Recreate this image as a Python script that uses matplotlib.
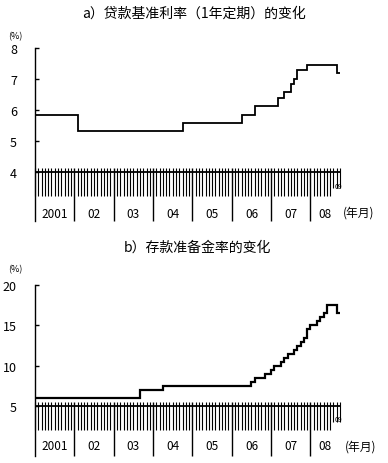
import matplotlib
matplotlib.use("Agg")
import matplotlib.pyplot as plt
from matplotlib import transforms

plt.rcParams['font.family'] = ['Noto Sans CJK SC', 'DejaVu Sans']

# ---- data ----
title_a = "a）贷款基准利率（1年定期）的变化"
title_b = "b）存款准备金率的变化"
year_labels = ["2001", "02", "03", "04", "05", "06", "07", "08"]
# months since Jan 2001 at which a new value starts
months_a = [0, 13, 45, 63, 67, 74, 76, 78, 79, 80, 83, 92, 93]
rate_a = [5.85, 5.31, 5.58, 5.85, 6.12, 6.39, 6.57, 6.84, 7.02, 7.29, 7.47, 7.20, 7.20]
months_b = [0, 32, 39, 66, 67, 70, 72, 73, 75, 76, 77, 79, 80, 81, 82, 83, 84,
            86, 87, 88, 89, 92, 93]
rrr_b = [6, 7, 7.5, 8, 8.5, 9, 9.5, 10, 10.5, 11, 11.5, 12, 12.5, 13, 13.5, 14.5,
         15, 15.5, 16, 16.5, 17.5, 16.5, 16.5]
yticks_a = [4, 5, 6, 7, 8]
yticks_b = [5, 10, 15, 20]
n_months = 93

W, H = 388, 464
fig = plt.figure(figsize=(W / 100, H / 100), dpi=100)


def px_ax(x0, x1, ytop, ybot):
    return fig.add_axes([x0 / W, 1 - ybot / H, (x1 - x0) / W, (ybot - ytop) / H])


def setup(ax, months, vals, ymin, ymax, base, yticks, lw, ppu, label_y_px):
    ax.plot(months, vals, drawstyle='steps-post', color='black', lw=lw,
            solid_joinstyle='miter')
    ax.set_xlim(0, n_months)
    ax.set_ylim(ymin, ymax)
    for s in ['top', 'right', 'bottom']:
        ax.spines[s].set_visible(False)
    ax.spines['left'].set_linewidth(1.0)
    ax.set_xticks([])
    ax.set_yticks(yticks)
    ax.set_yticklabels([str(t) for t in yticks])
    ax.tick_params(axis='y', direction='in', length=3, width=1, pad=13,
                   labelsize=9)
    # base line
    ax.hlines(base, 0, n_months, color='black', lw=1.3, clip_on=False)
    up = 4 / ppu
    down = 24 / ppu
    for m in range(0, n_months + 1):
        if m % 12 == 0 and m > 0 and m < n_months:
            ax.vlines(m, ymin, base + up, color='black', lw=1.0, clip_on=False)
        else:
            d = down if m < 91 else 16 / ppu
            ax.vlines(m, base - d, base + up, color='black', lw=0.8, clip_on=False)
    tr = transforms.blended_transform_factory(ax.transData, fig.transFigure)
    for i, lab in enumerate(year_labels):
        c = i * 12 + 6 if i < 7 else (84 + n_months) / 2
        ax.text(c, 1 - label_y_px / H, lab, transform=tr, ha='center',
                va='center', fontsize=8.5)


# panel a
ax1 = px_ax(35, 340, 49.3, 221.7)
setup(ax1, months_a, rate_a, 2.41, 8.0, 4, yticks_a, 1.3, 30.84, 214)
fig.text(194 / W, 1 - 14 / H, title_a, ha='center', va='center', fontsize=10)
fig.text(15 / W, 1 - 37 / H, "(%)", ha='center', va='center', fontsize=6.5)
fig.text(359 / W, 1 - 213 / H, "(年月)", ha='center', va='center', fontsize=8.5)
fig.text(338 / W, 1 - 187 / H, "09", ha='center', va='center', fontsize=5)

# panel b
ax2 = px_ax(35, 340, 286, 456.7)
setup(ax2, months_b, rrr_b, -1.106, 20.0, 5, yticks_b, 1.6, 8.09, 447)
fig.text(197 / W, 1 - 248 / H, title_b, ha='center', va='center', fontsize=10)
fig.text(15 / W, 1 - 270 / H, "(%)", ha='center', va='center', fontsize=6.5)
fig.text(361 / W, 1 - 447 / H, "(年月)", ha='center', va='center', fontsize=8.5)
fig.text(338 / W, 1 - 420 / H, "09", ha='center', va='center', fontsize=5)

fig.savefig("out.png", dpi=100)
